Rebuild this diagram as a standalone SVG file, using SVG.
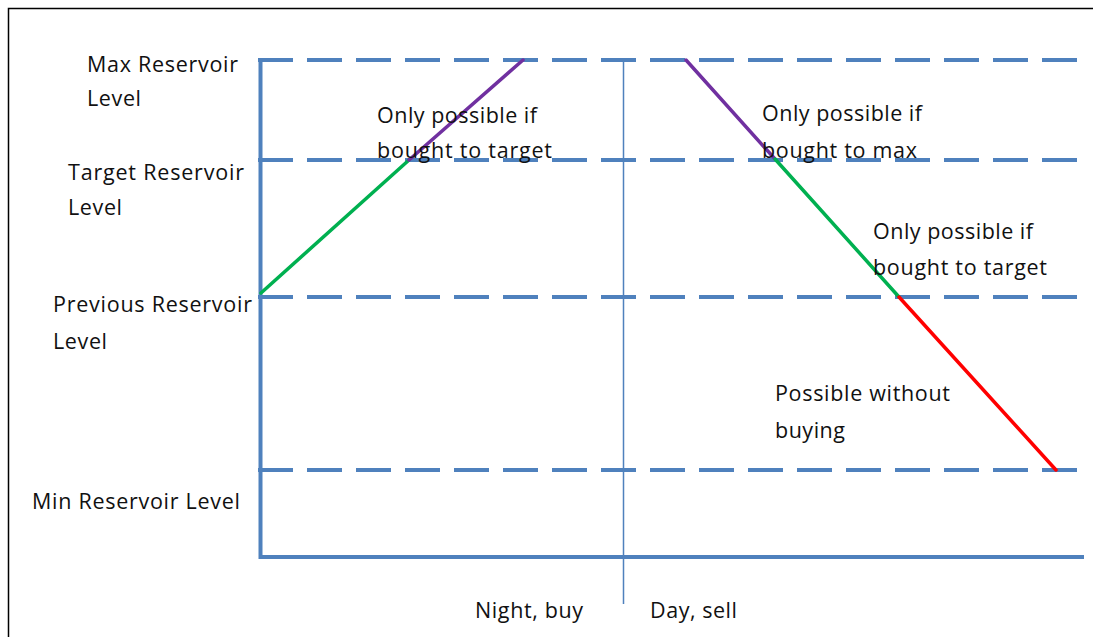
<svg xmlns="http://www.w3.org/2000/svg" width="1093" height="637" viewBox="0 0 1093 637">
<style>
.t{font-family:"Open Sans","Liberation Sans",Arial,sans-serif;font-size:21.5px;fill:#111}
.lvl{stroke:#4f81bd;stroke-width:4;stroke-dasharray:35 14;fill:none}
.ax{stroke:#4f81bd;stroke-width:4;fill:none}
.seg{stroke-width:3.5;fill:none;stroke-linecap:round}
</style>
<rect width="1093" height="637" fill="#fff"/>
<path d="M8.5 650 V8.5 H1100" stroke="#000" stroke-width="1.5" fill="none"/>
<g id="levels">
<line class="lvl" x1="258" y1="60" x2="1078" y2="60"/>
<line class="lvl" x1="258" y1="160" x2="1078" y2="160"/>
<line class="lvl" x1="258" y1="297" x2="1078" y2="297"/>
<line class="lvl" x1="258" y1="470" x2="1078" y2="470"/>
</g>
<g id="axes">
<path class="ax" d="M260.5 60 V557 H1084"/>
<line x1="623.5" y1="60" x2="623.5" y2="604" stroke="#4f81bd" stroke-width="1.5"/>
</g>
<g id="connectors">
<line class="seg" x1="261" y1="293" x2="409" y2="160" stroke="#00b050"/>
<line class="seg" x1="409" y1="160" x2="523" y2="60" stroke="#7030a0"/>
<line class="seg" x1="686" y1="60" x2="775" y2="159" stroke="#7030a0"/>
<line class="seg" x1="775" y1="159" x2="899" y2="297" stroke="#00b050"/>
<line class="seg" x1="899" y1="297" x2="1056" y2="470" stroke="#ff0000"/>
</g>
<g id="labels">
<text class="t" x="87" y="72" textLength="151">Max Reservoir</text>
<text class="t" x="87" y="106" textLength="54">Level</text>
<text class="t" x="68" y="180" textLength="176">Target Reservoir</text>
<text class="t" x="68" y="215" textLength="54">Level</text>
<text class="t" x="53" y="312" textLength="199">Previous Reservoir</text>
<text class="t" x="53" y="349" textLength="54">Level</text>
<text class="t" x="32" y="509" textLength="208">Min Reservoir Level</text>
<text class="t" x="377" y="123" textLength="160">Only possible if</text>
<text class="t" x="377" y="158" textLength="175">bought to target</text>
<text class="t" x="762" y="121" textLength="160">Only possible if</text>
<text class="t" x="762" y="158" textLength="155">bought to max</text>
<text class="t" x="873" y="239" textLength="160">Only possible if</text>
<text class="t" x="873" y="275" textLength="174">bought to target</text>
<text class="t" x="775" y="401" textLength="175">Possible without</text>
<text class="t" x="775" y="438" textLength="70">buying</text>
<text class="t" x="475" y="618" textLength="108">Night, buy</text>
<text class="t" x="650" y="618" textLength="87">Day, sell</text>
</g>
</svg>
